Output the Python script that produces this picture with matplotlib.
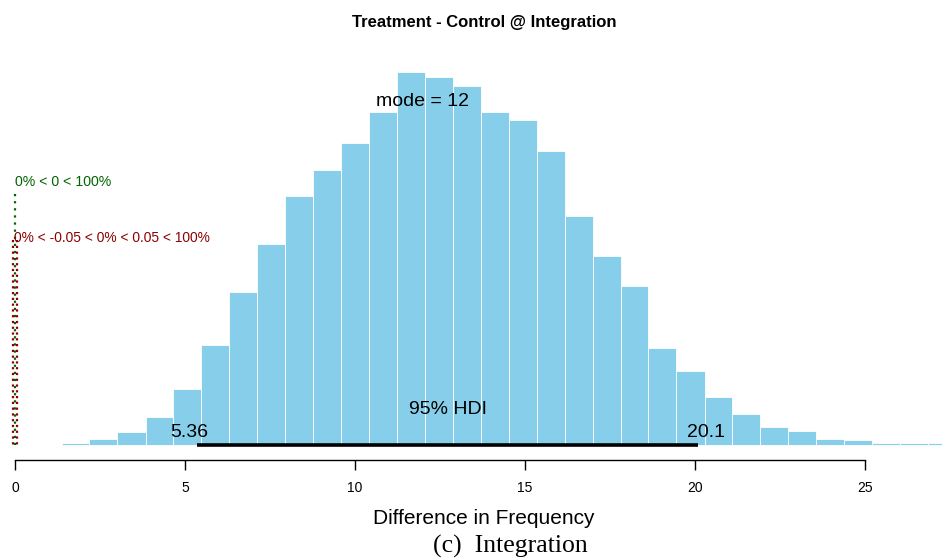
'''Posterior histogram of Treatment - Control difference (Integration)'''

import numpy as np
import matplotlib
matplotlib.use("Agg")
import matplotlib.pyplot as plt

# histogram (probability density per bin)
bin_edges = [1.37, 2.19, 3.01, 3.84, 4.66, 5.48, 6.30, 7.12, 7.95, 8.77, 9.59,
             10.41, 11.23, 12.06, 12.88, 13.70, 14.52, 15.34, 16.17, 16.99, 17.81,
             18.63, 19.45, 20.28, 21.10, 21.92, 22.74, 23.56, 24.39, 25.21, 26.03,
             26.85, 27.67]
density = [0.0005, 0.0016, 0.0034, 0.0074, 0.0147, 0.0263, 0.0402, 0.0528,
           0.0654, 0.0722, 0.0793, 0.0874, 0.0980, 0.0966, 0.0943, 0.0874,
           0.0853, 0.0772, 0.0601, 0.0496, 0.0418, 0.0255, 0.0194, 0.0126,
           0.0081, 0.0047, 0.0037, 0.0016, 0.0013, 0.0006, 0.0005, 0.0005]

mode_val = 12
hdi = [5.36, 20.1]
comp_val = 0
rope = [-0.05, 0.05]
xticks = [0, 5, 10, 15, 20, 25]

SANS = ["Liberation Sans", "DejaVu Sans"]
W, H = 942, 558

fig = plt.figure(figsize=(W / 100, H / 100), dpi=100)
ax = fig.add_axes([0, 1 - 460 / H, 1, 400 / H])

edges = np.array(bin_edges)
ax.bar(edges[:-1], density, width=np.diff(edges), align="edge",
       color="skyblue", edgecolor="white", linewidth=0.6, zorder=1)

# pixel scale: 34 px per unit on x, 0 at 15 px; density 1 -> 3808 px
ax.set_xlim(-15 / 34, (W - 15) / 34)
ax.set_ylim(-15 / 3808, 385 / 3808)

max_d = max(density)

# mode
ax.text(mode_val, 0.92 * max_d, "mode = " + str(mode_val), ha="center", va="center",
        fontsize=14, family=SANS, zorder=3)

# HDI bar and labels
ax.plot(hdi, [0, 0], color="black", linewidth=2.6, solid_capstyle="butt", zorder=2)
ax.text(np.mean(hdi), 0.0092, "95% HDI", ha="center", va="center",
        fontsize=14, family=SANS, zorder=3)
ax.annotate("5.36", (hdi[0], 0), xytext=(-5.5, 3), textcoords="offset points",
            ha="center", va="bottom", fontsize=14, family=SANS, zorder=3)
ax.annotate("20.1", (hdi[1], 0), xytext=(5.5, 3), textcoords="offset points",
            ha="center", va="bottom", fontsize=14, family=SANS, zorder=3)

# comparison value
cv_ht = 0.7 * max_d
ax.plot([comp_val, comp_val], [0.96 * cv_ht, 0], color="darkgreen",
        linestyle=(0, (1, 2.2)), linewidth=1.6, zorder=2)
ax.text(comp_val, cv_ht - 0.0006, "0% < 0 < 100%", ha="left", va="baseline",
        fontsize=10.2, family=SANS, color="darkgreen")

# ROPE
rope_ht = 0.55 * max_d
for r in rope:
    ax.plot([r, r], [rope_ht, 0], color="darkred",
            linestyle=(0, (1, 1.6)), linewidth=1.6, zorder=2)
ax.text(np.mean(rope) - 0.04, rope_ht - 0.0006, "0% < -0.05 < 0% < 0.05 < 100%",
        ha="left", va="baseline", fontsize=9.9, family=SANS, color="darkred")

# axis: only the bottom line from 0 to 25
for s in ["left", "right", "top"]:
    ax.spines[s].set_visible(False)
ax.spines["bottom"].set_bounds(xticks[0], xticks[-1])
ax.spines["bottom"].set_linewidth(1.0)
ax.set_yticks([])
ax.set_xticks(xticks)
ax.set_xticklabels([str(t) for t in xticks], family=SANS, fontsize=10)
ax.tick_params(axis="x", length=7, width=1.0, pad=8)
ax.patch.set_visible(False)

fig.text(484 / W, 1 - 22 / H, "Treatment - Control @ Integration", ha="center", va="center",
         fontsize=12, fontweight="bold", family=SANS)
fig.text(484 / W, 1 - 518 / H, "Difference in Frequency", ha="center", va="center",
         fontsize=15, family=SANS)
fig.text(510 / W, 1 - 546 / H, "(c)  Integration", ha="center", va="center",
         fontsize=18.5, family=["Liberation Serif", "DejaVu Serif"])

fig.savefig("out.png", dpi=100)
